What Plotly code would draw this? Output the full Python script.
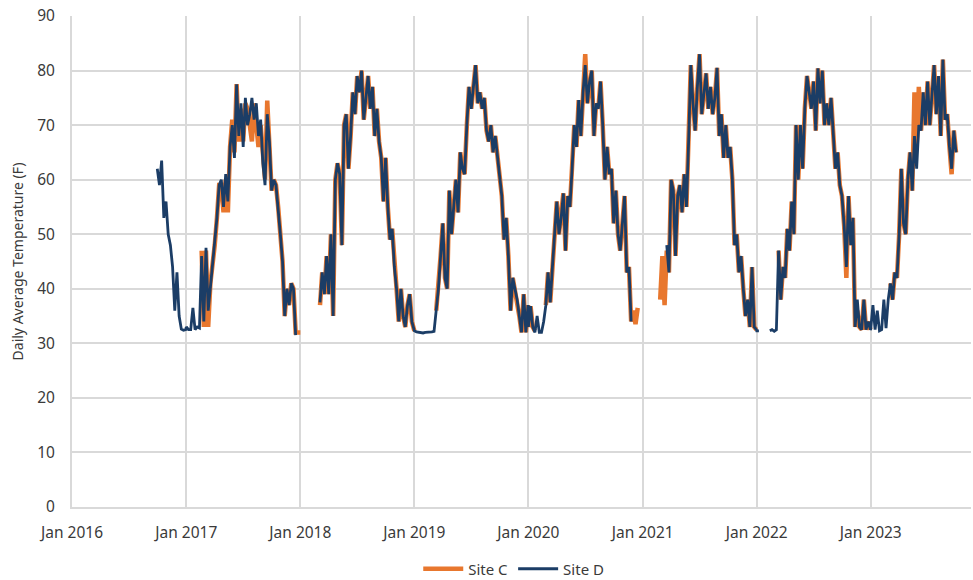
import pandas as pd
import plotly.graph_objects as go

N = None
# Weekly readings (week i = Jan 1 + 7*i days), degrees F
site_d_2016 = [N] * 39 + [62, 59, 63.5, 53, 56, 50, 48, 44, 36, 43, 35, 32.6, 32.4, 32.5]
site_d_2017 = [33, 32.5, 32.5, 36.5, 32.5, 33, 32.8, 46, 34, 47.5,
               36, 40, 44, 48, 53, 59, 60, 55, 61, 56,
               66, 70, 64, 77.5, 68, 74, 66, 75, 70, 72,
               75, 71, 74, 68, 71, 63, 59, 72, 67, 58,
               60, 59, 55, 50, 45, 35, 40, 37, 41, 40,
               31.5, N, N]
site_d_2018 = [N] * 9 + [37.5, 43, 39, 46, 39, 50, 35, 60, 63, 61,
                         48, 70, 72, 62, 68, 76, 72, 79, 76, 80,
                         71, 75, 79, 73, 77, 68, 73, 67, 64, 56,
                         64, 55, 49, 51, 44, 40, 34, 40, 35, 33,
                         37, 39, 34, 32.5]
site_d_2019 = [32.3, 32.1, 32, 31.9, 31.9, 32, 32, 32, 32.1, 32.2,
               36, 40, 46, 52, 42, 40, 58, 50, 55, 60,
               54, 65, 62, 61, 70, 77, 73, 77.5, 81, 74,
               76, 73, 75, 69, 67, 70, 65, 68, 64, 60,
               57, 49, 53, 46, 36, 42, 40, 38, 35, 32,
               39, 32, 37]
site_d_2020 = [33, 36.8, 33, 32, 35, 32, 32, 34, 37, 43,
               37.5, 44, 50, 56, 50, 53, 57.5, 47, 57, 55,
               62, 70, 66, 74.6, 68, 76, 81, 74, 78, 80,
               68, 74, 73, 78, 70, 60, 66, 61, 62, 52,
               58, 50, 47, 52, 57, 43, 44, 34, N, N,
               N, N, N]
site_d_2021 = [N] * 11 + [48, 43, 60, 58, 46, 57, 59, 54, 61,
                          55, 67, 81, 74, 69, 77, 83, 72, 76, 79.5,
                          73, 77, 72, 75, 80.5, 68, 72, 64, 70, 64,
                          66, 60, 48, 50, 43, 46, 40, 35, 38, 33,
                          44, 33, 32.5]
site_d_2022 = [32.3, 32.3, N, N, N, N, 32.3, 32.5, 32.2, 32.5,
               47, 38, 44, 42, 51, 47, 56, 50, 70, 60,
               70, 62, 73, 79, 76, 73, 78, 69, 80.4, 74,
               80, 70, 74, 70, 75, 69, 62, 65, 59, 57,
               51.5, 44, 57, 48, 53, 33, 38, 33, 32.5, 38,
               32.5, 34, 32.5]
site_d_2023 = [32.6, 37, 32.5, 36, 32.3, 32.5, 38, 32.8, 38, 41,
               38, 43, 42, 50, 62, 52, 50, 60, 65, 58,
               68, 62, 70, 69, 76, 70, 78, 70, 76, 81,
               72, 79, 68, 82, 71, 72, 66, 62, 69, 65] + [N] * 13

site_c_2016 = [N] * 53
site_c_2017 = [N] * 7 + [47, 33, 47, 33, 41, 44, 48, 53, 59, 59,
                         54, 60, 54, 66, 71, 65, 77.5, 67, 73, 67,
                         74, 73, 69, 67, 74, 70, 66, 70, 64, 60,
                         74.5, 67, 58, 60, 59, 55, 50, 45, 35, 40,
                         37, 41, 40, 32, 32, 32]
site_c_2018 = [32] + [N] * 8 + [37, 43, 39, 46, 39, 50, 35, 60, 63, 61,
                                48, 70, 72, 62, 68, 76, 72, 79, 76, 80,
                                71, 75, 79, 73, 77, 68, 73, 67, 64, 56,
                                64, 55, 49, 51, 44, 40, 34, 40, 35, 33,
                                37, 39, 34, 32.5]
site_c_2019 = [32.3] + [N] * 9 + [36, 40, 46, 52, 42, 40, 58, 50, 55, 60,
                                  54, 65, 62, 61, 70, 77, 73, 77.5, 81, 74,
                                  76, 73, 75, 69, 67, 70, 65, 68, 64, 60,
                                  57, 49, 53, 46, 36, 42, 40, 38, 35, 32,
                                  39, 32, 37]
site_c_2020 = [33, 36.8, 33, 32.3, N, N, N, N, 37, 43,
               37.5, 44, 50, 56, 50, 53, 57.5, 47, 57, 55,
               62, 70, 66, 74.6, 68, 76, 83, 74, 78, 80,
               68, 74, 73, 78, 70, 60, 66, 61, 62, 52,
               58, 50, 47, 52, 57, 43, 44, 34, 36, 33.5,
               36.5, N, N]
site_c_2021 = [N] * 8 + [38, 46, 37, 47, 43, 60, 58, 46, 57, 59, 54, 61,
                         55, 67, 81, 74, 69, 77, 83, 72, 76, 79.5,
                         73, 77, 72, 75, 80.5, 68, 72, 64, 70, 64,
                         66, 60, 48, 50, 43, 46, 40, 35, 38, 33,
                         44, 33, 32.5]
site_c_2022 = [N] * 10 + [47, 38, 44, 42, 51, 47, 56, 50, 70, 60,
                          70, 62, 73, 79, 76, 73, 78, 69, 80.4, 74,
                          80, 70, 74, 70, 75, 69, 62, 65, 59, 57,
                          51.5, 42, 57, 48, 53, 33, 36, 33, 32.5, 38,
                          32.5, 34, 32.5]
site_c_2023 = [N] * 9 + [41, 38, 43, 42, 50, 62, 52, 50, 60, 65, 58,
                         76, 66, 77, 69, 76, 70, 78, 70, 76, 81,
                         72, 79, 68, 82, 71, 72, 66, 61, 69, 65] + [N] * 13

years = [2016, 2017, 2018, 2019, 2020, 2021, 2022, 2023]
site_c_years = [site_c_2016, site_c_2017, site_c_2018, site_c_2019,
                site_c_2020, site_c_2021, site_c_2022, site_c_2023]
site_d_years = [site_d_2016, site_d_2017, site_d_2018, site_d_2019,
                site_d_2020, site_d_2021, site_d_2022, site_d_2023]

tick_vals = [f"{y}-01-01" for y in years]
tick_text = [f"Jan {y}" for y in years]


def build(series_by_year):
    xs, ys = [], []
    for y, vals in zip(years, series_by_year):
        start = pd.Timestamp(f"{y}-01-01")
        for i, v in enumerate(vals):
            xs.append(start + pd.Timedelta(days=7 * i))
            ys.append(v)
    return xs, ys


xc, yc = build(site_c_years)
xd, yd = build(site_d_years)

fig = go.Figure()
fig.add_trace(go.Scatter(x=xc, y=yc, mode="lines", name="Site C",
                         line=dict(color="#E8772E", width=4.5)))
fig.add_trace(go.Scatter(x=xd, y=yd, mode="lines", name="Site D",
                         line=dict(color="#1B3D66", width=2.8)))

font = dict(family="Noto Sans, Open Sans, sans-serif", size=15.5, color="#3A3A3A")
fig.update_layout(
    width=973, height=580,
    margin=dict(l=72, r=2, t=16, b=73),
    paper_bgcolor="white", plot_bgcolor="white",
    font=font,
    showlegend=True,
    legend=dict(orientation="h", xref="container", yref="container",
                x=0.528, xanchor="center", y=0.019, yanchor="middle",
                font=dict(size=15), itemwidth=40, tracegroupgap=0),
    xaxis=dict(range=["2016-01-01", "2023-11-18"], tickmode="array",
               tickvals=tick_vals, ticktext=tick_text, automargin=False,
               showgrid=True, gridcolor="#D9D9D9", gridwidth=2,
               showline=True, linecolor="#D9D9D9", linewidth=2,
               ticks="", ticklabelstandoff=10, zeroline=False),
    yaxis=dict(range=[0, 90], dtick=10, tick0=0, automargin=False,
               showgrid=True, gridcolor="#D9D9D9", gridwidth=2,
               showline=True, linecolor="#D9D9D9", linewidth=2,
               ticks="", ticklabelstandoff=12, zeroline=False,
               title=dict(text="Daily Average Temperature (F)", font=dict(size=14), standoff=10)),
)
fig.write_html("out.html", config={"displayModeBar": False},
               post_script="document.body.style.margin='0';document.body.style.overflow='hidden';")
